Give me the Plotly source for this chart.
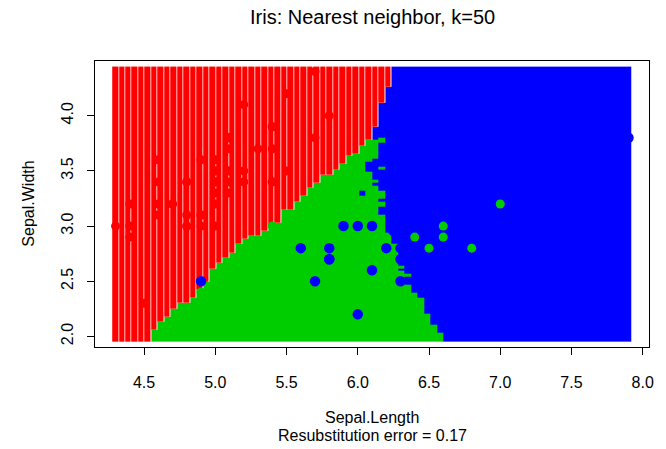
import numpy as np
import plotly.graph_objects as go

# Iris measurements (sepal length / sepal width) by species
setosa_sl = [5.1, 4.9, 4.7, 4.6, 5.0, 5.4, 4.6, 5.0, 4.4, 4.9, 5.4, 4.8, 4.8, 4.3, 5.8, 5.7, 5.4, 5.1, 5.7, 5.1,
             5.4, 5.1, 4.6, 5.1, 4.8, 5.0, 5.0, 5.2, 5.2, 4.7, 4.8, 5.4, 5.2, 5.5, 4.9, 5.0, 5.5, 4.9, 4.4, 5.1,
             5.0, 4.5, 4.4, 5.0, 5.1, 4.8, 5.1, 4.6, 5.3, 5.0]
setosa_sw = [3.5, 3.0, 3.2, 3.1, 3.6, 3.9, 3.4, 3.4, 2.9, 3.1, 3.7, 3.4, 3.0, 3.0, 4.0, 4.4, 3.9, 3.5, 3.8, 3.8,
             3.4, 3.7, 3.6, 3.3, 3.4, 3.0, 3.4, 3.5, 3.4, 3.2, 3.1, 3.4, 4.1, 4.2, 3.1, 3.2, 3.5, 3.6, 3.0, 3.4,
             3.5, 2.3, 3.2, 3.5, 3.8, 3.0, 3.8, 3.2, 3.7, 3.3]
versicolor_sl = [7.0, 6.4, 6.9, 5.5, 6.5, 5.7, 6.3, 4.9, 6.6, 5.2, 5.0, 5.9, 6.0, 6.1, 5.6, 6.7, 5.6, 5.8, 6.2, 5.6,
                 5.9, 6.1, 6.3, 6.1, 6.4, 6.6, 6.8, 6.7, 6.0, 5.7, 5.5, 5.5, 5.8, 6.0, 5.4, 6.0, 6.7, 6.3, 5.6, 5.5,
                 5.5, 6.1, 5.8, 5.0, 5.6, 5.7, 5.7, 6.2, 5.1, 5.7]
versicolor_sw = [3.2, 3.2, 3.1, 2.3, 2.8, 2.8, 3.3, 2.4, 2.9, 2.7, 2.0, 3.0, 2.2, 2.9, 2.9, 3.1, 3.0, 2.7, 2.2, 2.5,
                 3.2, 2.8, 2.5, 2.8, 2.9, 3.0, 2.8, 3.0, 2.9, 2.6, 2.4, 2.4, 2.7, 2.7, 3.0, 3.4, 3.1, 2.3, 3.0, 2.5,
                 2.6, 3.0, 2.6, 2.3, 2.7, 3.0, 2.9, 2.9, 2.5, 2.8]
virginica_sl = [6.3, 5.8, 7.1, 6.3, 6.5, 7.6, 4.9, 7.3, 6.7, 7.2, 6.5, 6.4, 6.8, 5.7, 5.8, 6.4, 6.5, 7.7, 7.7, 6.0,
                6.9, 5.6, 7.7, 6.3, 6.7, 7.2, 6.2, 6.1, 6.4, 7.2, 7.4, 7.9, 6.4, 6.3, 6.1, 7.7, 6.3, 6.4, 6.0, 6.9,
                6.7, 6.9, 5.8, 6.8, 6.7, 6.7, 6.3, 6.5, 6.2, 5.9]
virginica_sw = [3.3, 2.7, 3.0, 2.9, 3.0, 3.0, 2.5, 2.9, 2.5, 3.6, 3.2, 2.7, 3.0, 2.5, 2.8, 3.2, 3.0, 3.8, 2.6, 2.2,
                3.2, 2.8, 2.8, 2.7, 3.3, 3.2, 2.8, 3.0, 2.8, 3.0, 2.8, 3.8, 2.8, 2.8, 2.6, 3.0, 3.4, 3.1, 3.0, 3.1,
                3.1, 3.1, 2.7, 3.2, 3.3, 3.0, 2.5, 3.0, 3.4, 3.0]

species_colors = ["#FF0000", "#00CD00", "#0000FF"]
setosa_stripe = "#FFC4C4"
k_neighbors = 50
x_ticks = [4.5, 5.0, 5.5, 6.0, 6.5, 7.0, 7.5, 8.0]
y_ticks = [2.0, 2.5, 3.0, 3.5, 4.0]
title_text = "Iris: Nearest neighbor, k=50"
x_title = "Sepal.Length"
error_text = "Resubstitution error = 0.17"
y_title = "Sepal.Width"

# Training set
xs = np.array(setosa_sl + versicolor_sl + virginica_sl)
ys = np.array(setosa_sw + versicolor_sw + virginica_sw)
labels = np.repeat([0, 1, 2], 50)

# Evaluation grid over the range of the data
gx = np.linspace(xs.min(), xs.max(), 80)
gy = np.linspace(ys.min(), ys.max(), 100)
GX, GY = np.meshgrid(gx, gy)
px = GX.ravel()[:, None]
py = GY.ravel()[:, None]
d2 = (px - xs[None, :]) ** 2 + (py - ys[None, :]) ** 2

# k nearest neighbours, keeping every tie at the k-th distance
kth = np.sort(d2, axis=1)[:, k_neighbors - 1][:, None]
inside = d2 <= kth + 1e-12
votes = np.stack([(inside & (labels == c)[None, :]).sum(axis=1) for c in range(3)], axis=1)
pred = votes.argmax(axis=1).reshape(GX.shape)

# Row edges of the grid cells (outer rows drawn a little taller)
mid = (gy[:-1] + gy[1:]) / 2
pad = 0.045
y_edges = np.concatenate([[gy[0] - pad], mid, [gy[-1] + pad]])

z_red = np.where(pred == 0, 1.0, np.nan)
z_gb = np.where(pred == 1, 0.0, np.where(pred == 2, 1.0, np.nan))

fig = go.Figure()
fig.add_trace(go.Heatmap(
    x=gx, y=y_edges, z=z_gb, zmin=0, zmax=1,
    colorscale=[[0, species_colors[1]], [0.5, species_colors[1]], [0.5, species_colors[2]], [1, species_colors[2]]],
    showscale=False, hoverinfo="skip"))
# setosa cells: pale underlay with red columns on top
fig.add_trace(go.Heatmap(
    x=gx, y=y_edges, z=z_red, zmin=0, zmax=1,
    colorscale=[[0, setosa_stripe], [1, setosa_stripe]],
    showscale=False, hoverinfo="skip"))
fig.add_trace(go.Heatmap(
    x=gx, y=y_edges, z=z_red, zmin=0, zmax=1, xgap=1,
    colorscale=[[0, species_colors[0]], [1, species_colors[0]]],
    showscale=False, hoverinfo="skip"))

point_sizes = [9, 9, 10.5]
for c, (sx, sy) in enumerate([(setosa_sl, setosa_sw), (versicolor_sl, versicolor_sw), (virginica_sl, virginica_sw)]):
    fig.add_trace(go.Scatter(
        x=sx, y=sy, mode="markers",
        marker=dict(symbol="circle", size=point_sizes[c], color=species_colors[c], line=dict(width=0)),
        showlegend=False, hoverinfo="skip"))

font_family = "Liberation Sans, Arial, sans-serif"
axis_common = dict(
    showgrid=False, zeroline=False, showline=True, linecolor="black", linewidth=1,
    mirror=True, ticks="outside", ticklen=7, tickcolor="black", tickwidth=1,
    tickfont=dict(family=font_family, size=16, color="black"),
)
fig.update_xaxes(range=[4.156, 8.044], tickvals=x_ticks, ticktext=[f"{v:.1f}" for v in x_ticks],
                 ticklabelstandoff=14, **axis_common)
fig.update_yaxes(range=[1.904, 4.496], tickvals=y_ticks, ticktext=[f"{v:.1f}" for v in y_ticks],
                 tickangle=-90, ticklabelstandoff=8, **axis_common)

fig.update_layout(
    width=666, height=449,
    margin=dict(l=95, r=12, t=61, b=102),
    plot_bgcolor="white", paper_bgcolor="white",
    showlegend=False,
    font=dict(family=font_family, color="black"),
    annotations=[
        dict(text=title_text, x=0.5, y=1.154, xref="paper", yref="paper", showarrow=False,
             xanchor="center", yanchor="middle", font=dict(size=20)),
        dict(text=x_title, x=0.5, y=-0.248, xref="paper", yref="paper", showarrow=False,
             xanchor="center", yanchor="middle", font=dict(size=16)),
        dict(text=error_text, x=0.5, y=-0.311, xref="paper", yref="paper", showarrow=False,
             xanchor="center", yanchor="middle", font=dict(size=16)),
        dict(text=y_title, x=-0.1216, y=0.5, xref="paper", yref="paper", showarrow=False,
             xanchor="center", yanchor="middle", textangle=-90, font=dict(size=16)),
    ],
)

fig.write_html("out.html")
